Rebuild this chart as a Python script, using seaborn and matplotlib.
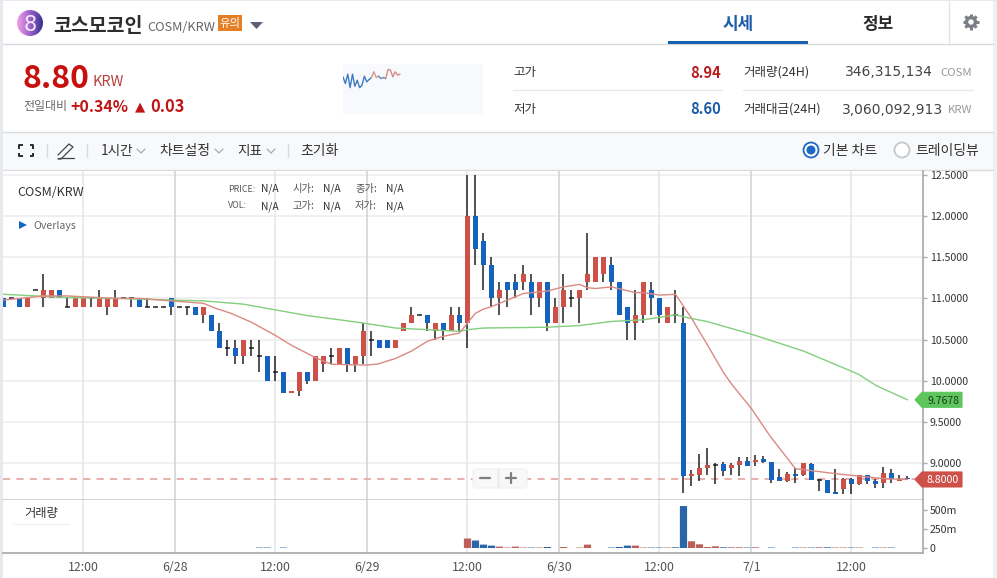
import numpy as np
import pandas as pd
import seaborn as sns
import matplotlib
matplotlib.use("Agg")
import matplotlib.pyplot as plt
from matplotlib.patches import Circle, FancyBboxPatch, Polygon, Rectangle
from matplotlib.colors import LinearSegmentedColormap

# Hourly candles for COSM/KRW
opens = [11.0, 11.0, 11.0, 10.9, 11.1, 11.0, 11.0, 11.1, 10.9, 10.9,
         10.9, 11.0, 10.9, 10.9, 10.9, 11.0, 11.0, 11.0, 10.9, 10.9,
         10.9, 11.0, 10.9, 10.9, 10.9, 10.8, 10.8, 10.6, 10.4, 10.4,
         10.3, 10.4, 10.3, 10.3, 10.1, 10.1, 9.85, 9.88, 10.1, 10.0,
         10.2, 10.3, 10.2, 10.4, 10.2, 10.3, 10.5, 10.5, 10.5, 10.4,
         10.6, 10.7, 10.8, 10.8, 10.6, 10.7, 10.6, 10.8, 10.7, 12.0,
         11.7, 11.4, 11.0, 11.2, 11.2, 11.2, 11.2, 11.0, 11.2, 10.7,
         10.9, 11.0, 11.0, 11.2, 11.2, 11.3, 11.4, 11.2, 10.9, 10.7,
         10.8, 11.1, 11.0, 10.7, 10.8, 10.7, 8.84, 8.86, 8.94, 8.98,
         8.99, 8.94, 8.98, 9.02, 9.01, 9.05, 9.01, 8.83, 8.78, 8.87,
         8.85, 8.99, 8.79, 8.79, 8.65, 8.69, 8.81, 8.74, 8.85, 8.78,
         8.76, 8.88, 8.78, 8.82]
closes = [10.9, 11.0, 10.9, 11.0, 11.1, 11.1, 11.1, 11.0, 10.9, 11.0,
          11.0, 11.0, 11.0, 11.0, 11.0, 11.0, 11.0, 10.9, 10.9, 10.9,
          10.9, 10.9, 10.9, 10.9, 10.8, 10.9, 10.6, 10.4, 10.4, 10.3,
          10.5, 10.4, 10.3, 10.0, 10.1, 9.85, 9.88, 10.1, 10.0, 10.3,
          10.3, 10.3, 10.4, 10.2, 10.3, 10.6, 10.5, 10.4, 10.4, 10.5,
          10.7, 10.8, 10.8, 10.7, 10.7, 10.6, 10.8, 10.7, 12.0, 11.6,
          11.4, 11.0, 11.1, 11.1, 11.1, 11.3, 11.0, 11.2, 10.7, 10.9,
          11.1, 11.0, 11.1, 11.3, 11.5, 11.5, 11.2, 10.8, 10.7, 10.8,
          11.2, 11.0, 10.8, 10.9, 10.8, 8.84, 8.87, 8.94, 8.98, 8.98,
          8.90, 8.98, 9.02, 8.96, 9.04, 9.01, 8.79, 8.78, 8.87, 8.84,
          9.0, 8.79, 8.79, 8.64, 8.62, 8.81, 8.74, 8.85, 8.78, 8.74,
          8.88, 8.80, 8.81, 8.80]
highs = [11.0, 11.0, 11.0, 11.0, 11.1, 11.3, 11.1, 11.1, 11.0, 11.0,
         11.0, 11.0, 11.1, 11.0, 11.1, 11.0, 11.0, 11.0, 11.0, 10.9,
         10.9, 11.0, 10.9, 10.9, 10.9, 10.9, 10.8, 10.7, 10.5, 10.5,
         10.5, 10.5, 10.5, 10.3, 10.3, 10.1, 9.88, 10.1, 10.1, 10.3,
         10.3, 10.4, 10.4, 10.4, 10.3, 10.7, 10.6, 10.5, 10.5, 10.5,
         10.7, 10.9, 10.8, 10.8, 10.7, 10.7, 10.9, 10.9, 12.5, 12.5,
         11.8, 11.5, 11.2, 11.2, 11.3, 11.4, 11.3, 11.2, 11.2, 11.0,
         11.3, 11.1, 11.1, 11.8, 11.5, 11.5, 11.5, 11.2, 10.9, 11.1,
         11.2, 11.2, 11.0, 10.9, 11.1, 10.9, 8.91, 9.11, 9.18, 9.0,
         9.01, 9.0, 9.07, 9.07, 9.10, 9.09, 9.01, 8.93, 8.89, 8.94,
         9.0, 9.0, 8.81, 8.79, 8.93, 8.82, 8.82, 8.86, 8.85, 8.81,
         8.95, 8.93, 8.86, 8.84]
lows = [10.9, 11.0, 10.9, 10.9, 11.1, 10.9, 11.0, 11.0, 10.9, 10.9,
        10.9, 10.9, 11.0, 10.8, 11.0, 11.0, 10.9, 10.9, 10.9, 10.9,
        10.9, 10.8, 10.9, 10.8, 10.8, 10.7, 10.6, 10.4, 10.3, 10.2,
        10.2, 10.3, 10.1, 10.0, 10.0, 9.85, 9.85, 9.82, 9.96, 10.0,
        10.1, 10.2, 10.2, 10.1, 10.1, 10.2, 10.3, 10.4, 10.4, 10.4,
        10.6, 10.7, 10.8, 10.6, 10.5, 10.5, 10.6, 10.6, 10.4, 11.4,
        11.1, 10.9, 10.8, 10.9, 11.0, 11.1, 10.8, 10.9, 10.6, 10.7,
        10.7, 10.9, 10.7, 11.1, 11.2, 11.2, 11.1, 10.8, 10.5, 10.5,
        10.7, 10.8, 10.7, 10.7, 10.7, 8.64, 8.72, 8.78, 8.86, 8.75,
        8.84, 8.86, 8.84, 8.96, 8.96, 9.0, 8.76, 8.78, 8.77, 8.76,
        8.84, 8.79, 8.66, 8.63, 8.62, 8.62, 8.62, 8.73, 8.75, 8.70,
        8.70, 8.76, 8.78, 8.79]

# Traded volume per candle, in millions, and the side of each volume bar
volumes = [0] * 32 + [6, 6, 0, 6] + [0] * 22 + [
    123, 97, 44, 31, 18, 6, 18, 6, 6, 6, 13, 0, 13, 0, 6, 44, 0, 0, 6, 13, 31,
    31, 6, 6, 6, 6, 9, 545, 87, 48, 13, 22, 9, 9, 9, 6, 9, 0, 6, 0, 0, 6,
    6, 6, 9, 9, 6, 6, 6, 6, 0, 6, 6, 6, 0, 0]
vol_up = [False] * 58 + [
    True, False, False, False, True, True, True, True, False, True, False,
    False, True, False, True, True, False, False, False, False, False,
    True, True, False, False, True, False, False, True, True, True, True,
    False, True, True, False, True, False, False, False, False, False, True,
    False, True, False, True, True, False, True, False, False, True, False,
    False, False]

# Moving averages read as (candle, price) knots
ma_short_at = [0, 5, 8, 10, 14, 17, 21, 25, 26.5, 28.4, 31, 34, 36, 39, 41, 45,
               46.7, 49, 51, 53, 55, 57, 58, 59, 60, 61, 63, 65, 68, 70, 72, 73,
               74, 76, 79, 80, 82, 84, 86, 87.9, 90, 91, 93.5, 95.8, 99, 100, 104,
               107, 110, 113]
ma_short = [10.98, 11.03, 11.03, 11.02, 11.0, 11.0, 10.97, 10.94, 10.88, 10.82,
            10.71, 10.55, 10.43, 10.28, 10.2, 10.19, 10.2, 10.27, 10.36, 10.48,
            10.54, 10.58, 10.70, 10.82, 10.87, 10.9, 10.98, 11.06, 11.09, 11.14,
            11.17, 11.13, 11.12, 11.14, 11.07, 11.07, 11.04, 11.05, 10.76, 10.45,
            10.10, 9.96, 9.66, 9.33, 8.93, 8.92, 8.87, 8.84, 8.81, 8.80]
ma_long_at = [0, 4, 8, 14, 21, 25, 30, 34.6, 38, 42, 45, 49, 53, 57, 58, 60, 68,
              72, 76, 80, 84, 85.8, 87.9, 93.5, 100, 106.85, 109.1, 113]
ma_long = [11.05, 11.03, 11.01, 11.0, 10.98, 10.97, 10.93, 10.85, 10.79, 10.74,
           10.70, 10.64, 10.62, 10.60, 10.62, 10.64, 10.65, 10.67, 10.72, 10.74,
           10.80, 10.76, 10.72, 10.565, 10.36, 10.08, 9.94, 9.7678]

price_ticks = [12.5, 12.0, 11.5, 11.0, 10.5, 10.0, 9.5, 9.0]
volume_ticks = [0, 250, 500]
volume_tick_labels = ["0", "250m", "500m"]
time_labels = ["12:00", "6/28", "12:00", "6/29", "12:00", "6/30", "12:00", "7/1", "12:00"]
time_positions = [10, 21.5, 34, 45.5, 58, 69.5, 82, 93.5, 106]
last_price = 8.80
long_last = 9.7678

# Mini trend shown in the summary row
spark_blue = [230, 250, 222, 262, 222, 258, 240, 262, 255, 228, 245, 238, 232]
spark_red = [232, 215, 232, 228]
spark_mid = [228, 235, 232, 235]
spark_tail = [235, 208, 210, 230, 215, 225, 222]

sns.set_theme(style="white")
plt.rcParams["font.family"] = ["Noto Sans CJK KR", "DejaVu Sans"]

RED = "#cd5148"
BLUE = "#1563bf"
WICK = "#222222"
GRID = "#eeeeee"
W, H = 997, 578
NUMERIC = ["DejaVu Sans", "Noto Sans CJK KR"]

fig = plt.figure(figsize=(W / 100, H / 100), dpi=100, facecolor="white")


def pixel_axes(left, top, right, bottom, **kw):
    return fig.add_axes([left / W, 1 - bottom / H, (right - left) / W, (bottom - top) / H], **kw)


bg = fig.add_axes([0, 0, 1, 1], zorder=0)
fg = fig.add_axes([0, 0, 1, 1], zorder=5)
for a in (bg, fg):
    a.set_xlim(0, W)
    a.set_ylim(H, 0)
    a.axis("off")
fg.patch.set_alpha(0)

# Page frame and toolbar bands
bg.add_patch(Rectangle((0, 0), 3, H, color="#e6e9ee", lw=0))
bg.add_patch(Rectangle((993, 0), 4, H, color="#eef0f3", lw=0))
bg.add_patch(Rectangle((0, 0), W, 1, color="#e6e9ee", lw=0))
bg.add_patch(Rectangle((3, 132), 990, 38, color="#f8f9fb", lw=0))
for y in (43.5, 131.5, 169.5):
    bg.plot([3, 993], [y, y], color="#d8dbe0", lw=1)
bg.plot([948.5, 948.5], [1, 43], color="#e2e4e8", lw=1)
bg.add_patch(Rectangle((343, 64), 140, 50, color="#f8f9fc", lw=0))

# Chart panels
xmin, xmax = -0.0625, 114.94
y_top = 9 + (463 - 171) / 82.3
y_bot = 9 - (500 - 463) / 82.3
ax = pixel_axes(3, 171, 923, 500, zorder=1)
vx = pixel_axes(3, 500, 923, 553, zorder=1)
index = np.arange(len(opens))

ax.set_xlim(xmin, xmax)
ax.set_ylim(y_bot, y_top)
for p in price_ticks:
    ax.axhline(p, color=GRID, lw=1.2, zorder=0)
for k, t in enumerate(time_positions):
    shade = "#d2d4d8" if "/" in time_labels[k] else "#e8e8ea"
    ax.axvline(t, color=shade, lw=1.2, zorder=0)
    vx.axvline(t, color=shade, lw=1.2, zorder=0)

ax.axhline(last_price, color="#e8aaa6", lw=1.3, ls=(0, (4, 3.4)), zorder=1)

opens_a, closes_a = np.array(opens), np.array(closes)
up = closes_a >= opens_a
flat = closes_a == opens_a
body_bottom = np.minimum(opens_a, closes_a)
body_height = np.abs(closes_a - opens_a)

ax.vlines(index, lows, highs, color=WICK, lw=1.1, zorder=2)
ax.bar(index[~flat], body_height[~flat], bottom=body_bottom[~flat], width=0.7,
       color=[RED if u else BLUE for u in up[~flat]], lw=0, zorder=3)
ax.hlines(closes_a[flat], index[flat] - 0.36, index[flat] + 0.36, color=WICK, lw=1.1, zorder=3)

short_df = pd.DataFrame({"candle": ma_short_at, "price": ma_short})
long_df = pd.DataFrame({"candle": ma_long_at, "price": ma_long})
sns.lineplot(data=long_df, x="candle", y="price", color="#82cf7c", lw=1.0, ax=ax, zorder=4,
             estimator=None, sort=False)
sns.lineplot(data=short_df, x="candle", y="price", color="#d98a82", lw=1.0, ax=ax, zorder=5,
             estimator=None, sort=False)

ax.set_xlim(xmin, xmax)
ax.set_ylim(y_bot, y_top)
ax.set_xlabel("")
ax.set_ylabel("")
ax.set_xticks([])
ax.yaxis.tick_right()
ax.set_yticks(price_ticks)
ax.set_yticklabels([f"{p:.4f}" for p in price_ticks], fontsize=7.6, color="#333333")
ax.tick_params(axis="y", length=3, width=1, color="#aaaaaa", pad=2)
for side in ("top", "left"):
    ax.spines[side].set_visible(False)
ax.spines["right"].set_color("#aaaaaa")
ax.spines["bottom"].set_color("#cccccc")

# Volume panel
vol_df = pd.DataFrame({"candle": index, "volume": volumes,
                       "side": ["up" if u else "down" for u in vol_up]})
sns.barplot(data=vol_df, x="candle", y="volume", hue="side", native_scale=True, dodge=False,
            palette={"up": RED, "down": BLUE}, width=0.9, legend=False, ax=vx, zorder=3,
            linewidth=0)
for bar in vx.patches:
    bar.set_snap(False)
vx.set_xlim(xmin, xmax)
vx.set_ylim(-500 * (553 - 548) / 38.5, 500 * (548 - 500) / 38.5)
vx.set_xlabel("")
vx.set_ylabel("")
vx.yaxis.tick_right()
vx.set_yticks(volume_ticks)
vx.set_yticklabels(volume_tick_labels, fontsize=7.6, color="#333333")
vx.set_xticks(time_positions)
vx.set_xticklabels(time_labels, fontsize=8.9, color="#555555")
vx.tick_params(axis="y", length=3, width=1, color="#aaaaaa", pad=2)
vx.tick_params(axis="x", length=0, pad=6)
for side in ("top", "left"):
    vx.spines[side].set_visible(False)
vx.spines["right"].set_color("#aaaaaa")
vx.spines["bottom"].set_color("#aaaaaa")


def label(x, y, s, size, color="#333333", ha="left", weight="normal", **kw):
    return fg.text(x, y, s, fontsize=size, color=color, ha=ha, va="center_baseline",
                   fontweight=weight, **kw)


# Coin logo
grad = LinearSegmentedColormap.from_list("logo", ["#f0a0e8", "#9a60c8", "#2c2f88"])
logo = fg.imshow(np.linspace(0, 1, 64).reshape(1, -1), cmap=grad, extent=(17, 43, 36, 10),
                 aspect="auto", zorder=1)
logo.set_clip_path(Circle((30, 23), 13, transform=fg.transData))
fg.set_xlim(0, W)
fg.set_ylim(H, 0)
label(30, 23, "8", 15, "#f4e8fa", ha="center", family="DejaVu Sans")

# Header row
label(53, 24, "코스모코인", 14, "#2d2d2d", weight="bold")
label(147, 26, "COSM/KRW", 9.2, "#666666")
fg.add_patch(Rectangle((218, 15), 24, 16, color="#e57f25", lw=0))
label(230, 23, "유의", 8.2, "white", ha="center")
fg.add_patch(Polygon([[250, 22], [263, 22], [256.5, 29]], color="#5a6170", lw=0))
label(738, 22, "시세", 12.2, "#1b5ca8", ha="center", weight="bold")
fg.add_patch(Rectangle((668, 41), 140, 3, color="#1b5fb2", lw=0))
label(878, 22, "정보", 12.2, "#2b2b2b", ha="center", weight="bold")

# Settings gear: a ring with teeth
for angle in np.arange(0, np.pi, np.pi / 4):
    dx, dy = 8 * np.cos(angle), 8 * np.sin(angle)
    fg.plot([971 - dx, 971 + dx], [22 - dy, 22 + dy], color="#7b7f85", lw=2.2, solid_capstyle="butt")
fg.add_patch(Circle((971, 22), 4.4, fc="white", ec="#7b7f85", lw=2.4, zorder=3))

# Price summary
label(22, 75, "8.80", 23, "#c8100f", weight="bold")
label(92, 81, "KRW", 10.4, "#b5403c")
label(23, 105, "전일대비", 8.6, "#666666")
label(70, 105, "+0.34%", 11.4, "#c01515", weight="bold")
label(135, 105, "▲", 9.5, "#c01515", family="DejaVu Sans")
label(150, 105, "0.03", 11.8, "#c01515", weight="bold")

# Mini trend
sp = pixel_axes(343, 64, 483, 114, zorder=2)
sp.patch.set_alpha(0)
segments = [(spark_blue, "#3c7cc4", 0), (spark_red, "#d59a98", 12), (spark_mid, "#5f86b8", 15),
            (spark_tail, "#d58a88", 18)]
for values, colour, start in segments:
    sns.lineplot(x=np.arange(start, start + len(values)), y=values, color=colour, lw=1, ax=sp,
                 estimator=None)
sp.set_xlim(0, 59)
sp.set_ylim(340, 192)
sp.set_xlabel("")
sp.set_ylabel("")
sp.axis("off")

# Day range and 24h totals
label(513, 71, "고가", 9, "#333333")
label(513, 108, "저가", 9, "#333333")
label(721, 71, "8.94", 10.6, "#b81c1c", ha="right", weight="bold")
label(721, 108, "8.60", 10.6, "#1b5ca8", ha="right", weight="bold")
fg.plot([513, 722], [89.5, 89.5], color="#e6e8ea", lw=1)
fg.plot([743, 973], [89.5, 89.5], color="#e6e8ea", lw=1)
label(743, 71, "거래량(24H)", 9)
label(743, 108, "거래대금(24H)", 9)
fg.text(933, 71, "346,315,134", fontsize=10, color="#444444", ha="right", va="center_baseline",
        family=NUMERIC)
fg.text(943, 108, "3,060,092,913", fontsize=10, color="#444444", ha="right", va="center_baseline",
        family=NUMERIC)
label(972, 72, "COSM", 8.2, "#999999", ha="right")
label(972, 109, "KRW", 8.2, "#999999", ha="right")

# Toolbar
for px, py in [(19, 145), (33, 145), (19, 156), (33, 156)]:
    sx = 1 if px == 19 else -1
    sy = 1 if py == 145 else -1
    fg.plot([px + sx * 3.5, px, px], [py, py, py + sy * 3.5], color="#2a2a2a", lw=1.4,
            solid_capstyle="butt")
fg.plot([58, 69, 73, 72, 61, 58], [155, 144, 147, 148, 159, 159], color="#444444", lw=0.9)
fg.plot([58, 74], [157.5, 157.5], color="#444444", lw=0.9)
for x in (46.5, 86.5, 287.5):
    fg.plot([x, x], [144, 157], color="#d8dade", lw=1)
label(101, 150, "1시간", 9.8)
label(159, 150, "차트설정", 10)
label(237, 150, "지표", 9.8)
label(300, 150, "초기화", 10)
for x in (141, 219, 271):
    fg.plot([x - 4, x, x + 4], [149, 153, 149], color="#a6abb2", lw=0.9)
fg.add_patch(Circle((811, 150), 7.5, fc="white", ec="#1c68c4", lw=1.3))
fg.add_patch(Circle((811, 150), 4.5, color="#1c68c4", lw=0))
fg.add_patch(Circle((902, 150), 7.5, fc="white", ec="#c4c8cc", lw=1.3))
label(823, 150, "기본 차트", 10)
label(915, 150, "트레이딩뷰", 10)

# Legend text inside the chart
label(17, 191, "COSM/KRW", 9, "#333333")
label(228, 188, "PRICE:", 6.4, "#555555")
label(228, 205, "VOL:", 6.4, "#555555")
for x, first, second in [(292, "시가:", "고가:"), (355, "종가:", "저가:")]:
    label(x, 188, first, 7.4, "#555555")
    label(x, 205, second, 7.4, "#555555")
for x in (261, 323, 386):
    label(x, 188, "N/A", 7.4, "#333333")
    label(x, 205, "N/A", 7.4, "#333333")
fg.add_patch(Polygon([[19, 221], [27, 225], [19, 229]], color="#1565c0", lw=0))
label(33, 225, "Overlays", 7.6, "#666666")

# Zoom buttons
fg.add_patch(FancyBboxPatch((473, 469), 54, 19, boxstyle="round,pad=0,rounding_size=3",
                            fc="#f8f8f8", ec="#f0f0f0", lw=0.8))
fg.plot([497.5, 497.5], [469, 488], color="#e6e6e6", lw=1)
fg.plot([480, 490], [477.5, 477.5], color="#7e7e7e", lw=1.6)
fg.plot([506, 516], [477.5, 477.5], color="#7e7e7e", lw=1.6)
fg.plot([511, 511], [472.5, 482.5], color="#7e7e7e", lw=1.6)

# Value tags on the price axis
for price, colour, text_colour in [(long_last, "#5cc65c", "#1f3d1f"), (last_price, RED, "white")]:
    yy = 463 - (price - 9) * 82.3
    half = 7.5
    fg.add_patch(Polygon([[915, yy], [922, yy - half], [962, yy - half], [962, yy + half],
                          [922, yy + half]], closed=True, fc=colour, ec=colour, lw=0.8))
    label(943, yy, f"{price:.4f}", 7.6, text_colour, ha="center")

# Volume button
fg.add_patch(Rectangle((13, 505), 57, 20, color="#eeeeee", lw=0))
fg.add_patch(Rectangle((12.5, 503), 57, 21, color="white", lw=0))
label(41, 512, "거래량", 8.8, "#333333", ha="center")

fig.savefig("out.png", dpi=100, facecolor="white")
